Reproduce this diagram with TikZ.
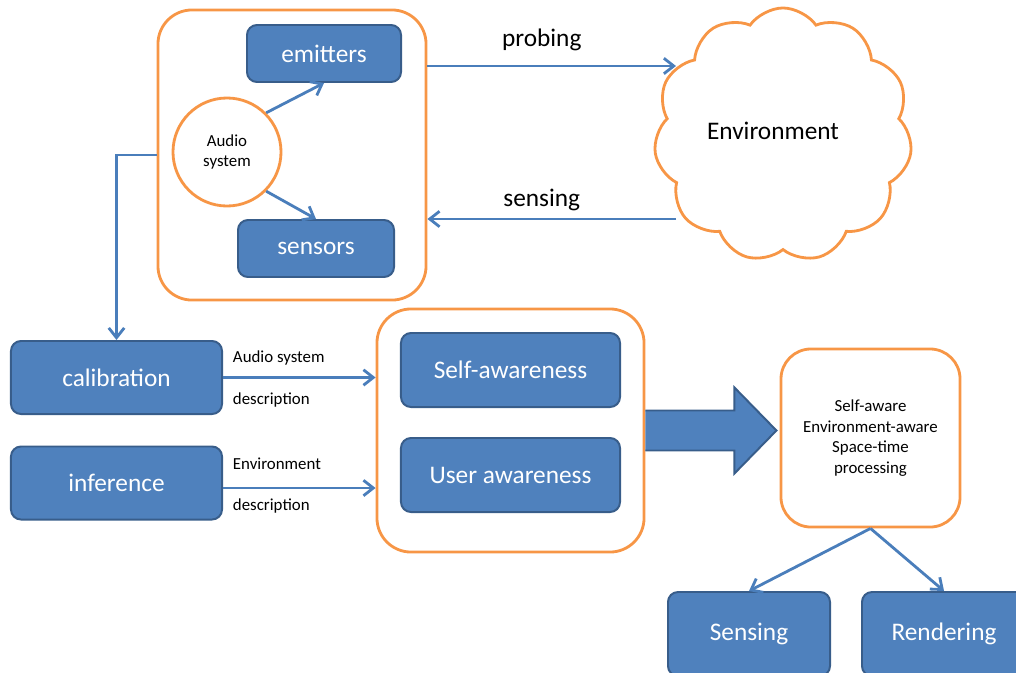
\documentclass[tikz,border=0pt]{standalone}
\usepackage{fontspec}
\setmainfont{Carlito}
\usetikzlibrary{positioning,arrows.meta,calc,shapes.symbols}
\definecolor{oblue}{RGB}{79,129,189}
\definecolor{oblueedge}{RGB}{56,93,138}
\definecolor{oorange}{RGB}{247,150,70}
\definecolor{olink}{RGB}{74,126,187}

\begin{document}
\begin{tikzpicture}[x=0.025cm,y=-0.025cm,
    bluebox/.style={draw=oblueedge,line width=1.4pt,fill=oblue,rounded corners=0.25cm,
      text=white,inner sep=0pt,bigtext},
    orangebox/.style={draw=oorange,line width=2pt,rounded corners=0.85cm,inner sep=0pt},
    link/.style={draw=olink,line width=2pt,-{Straight Barb[length=7pt,width=11pt]}},
    smalltext/.style={font=\fontsize{12}{14.7}\selectfont},
    bigtext/.style={font=\fontsize{18}{22}\selectfont}]
  % page is 1016 x 672 units, y grows downwards
  \useasboundingbox (0,0) rectangle (1016,672);
  \clip (0,0) rectangle (1016,672);

  % audio system with emitters and sensors
  \node[orangebox,minimum width=6.7cm,minimum height=7.25cm] (audiobox) at (292,155) {};
  \node[bluebox,minimum width=3.85cm,minimum height=1.425cm] (emit) at (324,53.5) {emitters};
  \node[bluebox,minimum width=3.9cm,minimum height=1.425cm] (sens) at (316,248.5) {sensors};
  \node[circle,draw=oorange,line width=2pt,fill=white,minimum size=2.7cm,inner sep=0pt,
    smalltext,align=center] (audio) at (227,152) {Audio\\system};
  \draw[link] (audio.45) -- (emit.south);
  \draw[link] (audio.-45) -- (sens.north);

  % environment cloud, probed and sensed
  \node[cloud,draw=oorange,line width=2pt,cloud puffs=11,cloud puff arc=110,aspect=1,
    minimum width=6.45cm,minimum height=6.35cm] (env) at (783,135) {};
  \node[bigtext] (envlbl) at (773,131) {Environment};
  \coordinate (probe) at (676,66);
  \coordinate (sense) at (676,219);
  \draw[link] (audiobox.east |- probe) -- node[pos=0.46,yshift=18.5pt,bigtext] (probelbl) {probing} (probe);
  \draw[link] (sense) -- node[pos=0.54,yshift=13.5pt,bigtext] (senselbl) {sensing} (audiobox.east |- sense);

  % calibration and inference
  \node[bluebox,minimum width=5.275cm,minimum height=1.825cm] (calib) at (116.5,377.5) {calibration};
  \node[bluebox,minimum width=5.275cm,minimum height=1.825cm] (infer) at (116.5,483) {inference};
  \draw[link] (audiobox.west) -| (calib.north);

  % awareness group
  \node[orangebox,minimum width=6.675cm,minimum height=6.075cm] (aware) at (510.5,430.5) {};
  \node[bluebox,minimum width=5.475cm,minimum height=1.85cm] (self) at (510.5,370) {Self-awareness};
  \node[bluebox,minimum width=5.475cm,minimum height=1.85cm] (user) at (510.5,475) {User awareness};

  \draw[link] (calib.east) -- (aware.west |- calib.east);
  \draw[link] ($(infer.east)+(0,5)$) -- (aware.west |- {$(infer.east)+(0,5)$});
  \node[smalltext,anchor=base west] (calibtop) at ($(calib.east)+(5,-15)$) {Audio system};
  \node[smalltext,anchor=base west] (calibbot) at ($(calib.east)+(5,27)$) {description};
  \node[smalltext,anchor=base west] (infertop) at ($(infer.east)+(5,-14)$) {Environment};
  \node[smalltext,anchor=base west] (inferbot) at ($(infer.east)+(5,27)$) {description};

  % block arrow, left side left open against the frame
  \filldraw[fill=oblue,draw=oblueedge,line width=1.4pt,line join=miter]
    (aware.east) ++(0,-20) -- ++(89,0) -- ++(0,-23) -- ++(42,43) -- ++(-42,43)
    -- ++(0,-23) -- ++(-89,0);

  % processing and outputs
  \node[orangebox,rounded corners=0.75cm,minimum width=4.475cm,minimum height=4.45cm,
    smalltext,align=center] (proc) at (870.5,438)
    {Self-aware\\Environment-aware\\Space-time\\processing};
  \node[bluebox,minimum width=4.05cm,minimum height=2.1cm] (sensing) at (749,634) {Sensing};
  \node[bluebox,minimum width=4.1cm,minimum height=2.1cm] (render) at (944,634) {Rendering};
  \draw[link] (proc.south) -- (sensing.north);
  \draw[link] (proc.south) -- (render.north);
\end{tikzpicture}
\end{document}
